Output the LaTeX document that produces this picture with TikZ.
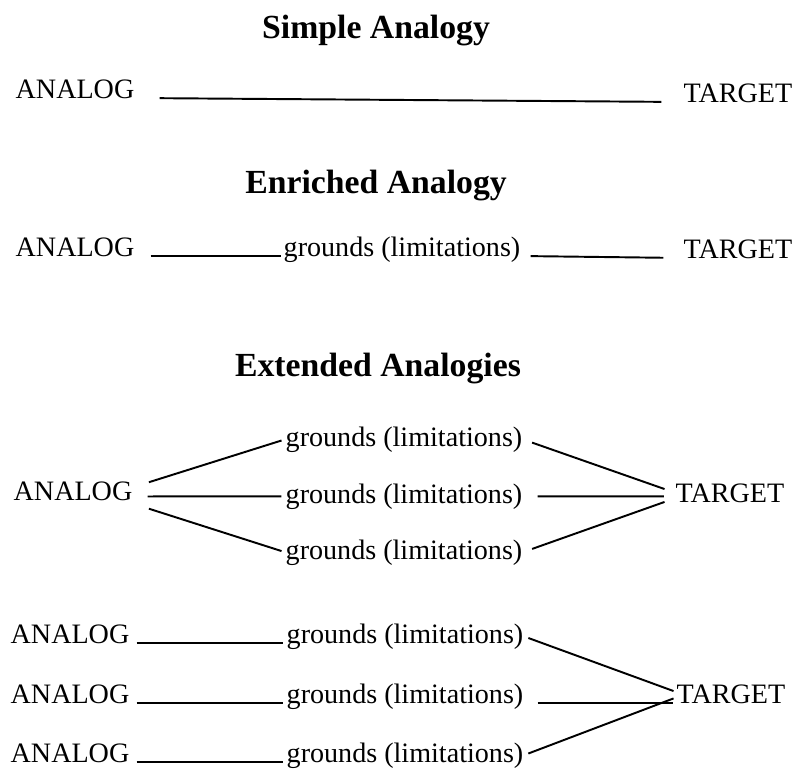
\documentclass[tikz,border=0pt]{standalone}
\usepackage{fontspec}
\setmainfont{Liberation Serif}
\usepackage{tikz}
\tikzstyle{heading} = [font=\bfseries\fontsize{19.2}{23}\selectfont, inner sep=0pt, anchor=base]
\tikzstyle{word} = [font=\fontsize{16}{19}\selectfont, inner sep=0pt, anchor=base]
\tikzstyle{link} = [line width=1.1pt]

\begin{document}
\begin{tikzpicture}[x=0.02cm, y=-0.02cm]
	\useasboundingbox (0,0) rectangle (794,774);

	\node (simple) [heading] at (376,38) {Simple Analogy};
	\node (analogA) [word] at (75,98) {ANALOG};
	\node (targetA) [word] at (738,102) {TARGET};

	\node (enriched) [heading] at (376,193) {Enriched Analogy};
	\node (analogB) [word] at (75,256) {ANALOG};
	\node (groundsB) [word] at (402,256) {grounds (limitations)};
	\node (targetB) [word] at (738,258) {TARGET};

	\node (extended) [heading] at (378,376) {Extended Analogies};
	\node (analogC) [word] at (73,500) {ANALOG};
	\node (groundsCa) [word] at (404,446) {grounds (limitations)};
	\node (groundsCb) [word] at (404,503) {grounds (limitations)};
	\node (groundsCc) [word] at (404,559) {grounds (limitations)};
	\node (targetC) [word] at (730,502) {TARGET};

	\node (analogDa) [word] at (70,643) {ANALOG};
	\node (analogDb) [word] at (70,703) {ANALOG};
	\node (analogDc) [word] at (70,762) {ANALOG};
	\node (groundsDa) [word] at (405,643) {grounds (limitations)};
	\node (groundsDb) [word] at (405,703) {grounds (limitations)};
	\node (groundsDc) [word] at (405,762) {grounds (limitations)};
	\node (targetD) [word] at (731,703) {TARGET};

	\draw [link, shorten <=0.5cm, shorten >=0.44cm] (analogA.base east) -- (targetA.base west);

	\draw [link, shorten <=0.32cm, shorten >=0.04cm] (analogB.base east) -- (groundsB.base west);
	\draw [link, shorten <=0.2cm, shorten >=0.4cm] (groundsB.base east) -- (targetB.base west);

	\draw [link, shorten <=0.34cm, shorten >=0.08cm] ([yshift=2pt]analogC.east) -- (groundsCa.west);
	\draw [link, shorten <=0.3cm, shorten >=0.08cm] ([yshift=2pt]analogC.base east) -- (groundsCb.west);
	\draw [link, shorten <=0.34cm, shorten >=0.08cm] ([yshift=-2pt]analogC.base east) -- (groundsCc.west);
	\draw [link, shorten <=0.2cm, shorten >=0.23cm] (groundsCa.east) -- (targetC.west);
	\draw [link, shorten <=0.3cm, shorten >=0.23cm] (groundsCb.east) -- ([yshift=-2pt]targetC.west);
	\draw [link, shorten <=0.2cm, shorten >=0.23cm] (groundsCc.east) -- ([yshift=-3pt]targetC.west);

	\draw [link, shorten <=0.14cm, shorten >=0.06cm] (analogDa.base east) -- (groundsDa.base west);
	\draw [link, shorten <=0.14cm, shorten >=0.06cm] (analogDb.base east) -- (groundsDb.base west);
	\draw [link, shorten <=0.14cm, shorten >=0.06cm] (analogDc.base east) -- (groundsDc.base west);
	\draw [link, shorten <=0.1cm, shorten >=0.06cm] (groundsDa.east) -- ([yshift=1pt]targetD.west);
	\draw [link, shorten <=0.28cm, shorten >=0.06cm] (groundsDb.base east) -- (targetD.base west);
	\draw [link, shorten <=0.1cm, shorten >=0.06cm] (groundsDc.east) -- ([yshift=-2pt]targetD.west);
\end{tikzpicture}
\end{document}
